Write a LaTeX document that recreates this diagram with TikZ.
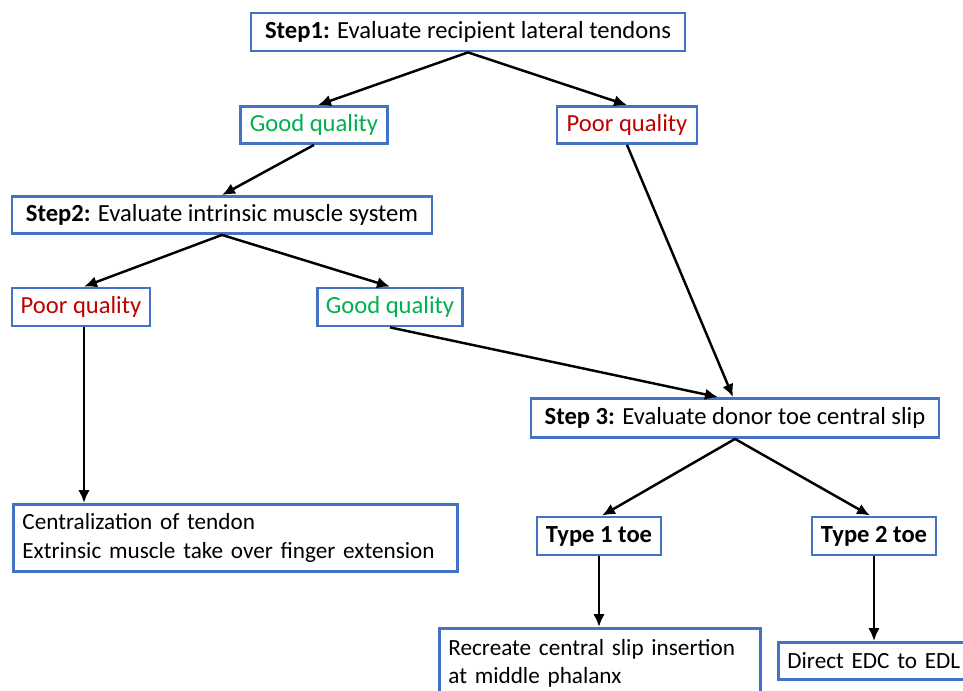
\documentclass[tikz,border=0pt]{standalone}
\usepackage{fontspec}
\setmainfont{Carlito}
\usepackage{xcolor}
\usetikzlibrary{arrows.meta, positioning}
\definecolor{boxblue}{HTML}{4472C4}
\definecolor{goodgreen}{HTML}{00B050}
\definecolor{poorred}{HTML}{C00000}
\newcommand{\good}{\textcolor{goodgreen}{Good quality}}
\newcommand{\poor}{\textcolor{poorred}{Poor quality}}

\begin{document}
\begin{tikzpicture}[
  x=0.02cm, y=-0.02cm,
  font=\fontsize{14}{16}\selectfont,
  stepbox/.style={rectangle, draw=boxblue, line width=1.6pt, fill=white,
                  inner sep=1pt, minimum height=0.76cm},
  outbox/.style={rectangle, draw=boxblue, line width=1.6pt, fill=white,
                 font=\fontsize{13.2}{16}\selectfont,
                 align=left, inner xsep=0.18cm, inner ysep=2pt, anchor=north west},
  dep/.style={-{Latex[length=2.6mm, width=2.3mm]}, line width=1.4pt, black}
]
\clip (0,0) rectangle (963,690);
\fill[white] (0,0) rectangle (963,690);

% step 1 and its two outcomes
\node[stepbox, minimum width=8.68cm] (s1) at (468,32)
  {\textbf{Step1:} Evaluate recipient lateral tendons};
\node[stepbox, minimum width=2.94cm, minimum height=0.74cm] (g1) at (314,125) {\good};
\node[stepbox, minimum width=2.8cm, minimum height=0.74cm] (p1) at (627,125) {\poor};

% step 2 and its two outcomes
\node[stepbox, minimum width=8.4cm, minimum height=0.74cm] (s2) at (222,215)
  {\textbf{Step2:} Evaluate intrinsic muscle system};
\node[stepbox, minimum width=2.76cm, minimum height=0.76cm] (p2) at (81,307) {\poor};
\node[stepbox, minimum width=2.9cm, minimum height=0.76cm] (g2) at (390,307) {\good};

% step 3 and the two toe types
\node[stepbox, minimum width=8.16cm, minimum height=0.78cm] (s3) at (735,418)
  {\textbf{Step 3:} Evaluate donor toe central slip};
\node[stepbox, minimum width=2.48cm] (t1) at (599,536) {\textbf{Type 1 toe}};
\node[stepbox, minimum width=2.48cm] (t2) at (874,536) {\textbf{Type 2 toe}};

% end results
\node[outbox, text width=8.52cm, minimum height=1.34cm] (cen) at (12,503)
  {Centralization of tendon\\Extrinsic muscle take over finger extension};
\node[outbox, text width=6.06cm, minimum height=1.4cm] (rec) at (438,627)
  {Recreate central slip insertion\\at middle phalanx};
\node[outbox, text width=4.2cm, minimum height=0.74cm] (edc) at (777,641)
  {Direct EDC to EDL};

\draw[dep] (s1.south) -- ([xshift=0.08cm]g1.north);
\draw[dep] (s1.south) -- (p1.north);
\draw[dep] (g1.south) -- (s2.north);
\draw[dep] (s2.south) -- ([xshift=0.06cm]p2.north);
\draw[dep] (s2.south) -- (g2.north);
\draw[dep] (g2.south) -- ([xshift=-0.34cm]s3.north);
\draw[dep] (p1.south) -- ([xshift=-0.04cm]s3.north);
\draw[dep] ([xshift=0.06cm]p2.south) -- ([xshift=0.06cm]p2.south |- cen.north);
\draw[dep] (s3.south) -- ([xshift=0.06cm]t1.north);
\draw[dep] (s3.south) -- ([xshift=-0.08cm]t2.north);
\draw[dep] (t1.south) -- (t1.south |- rec.north);
\draw[dep] (t2.south) -- (t2.south |- edc.north);
\end{tikzpicture}
\end{document}
